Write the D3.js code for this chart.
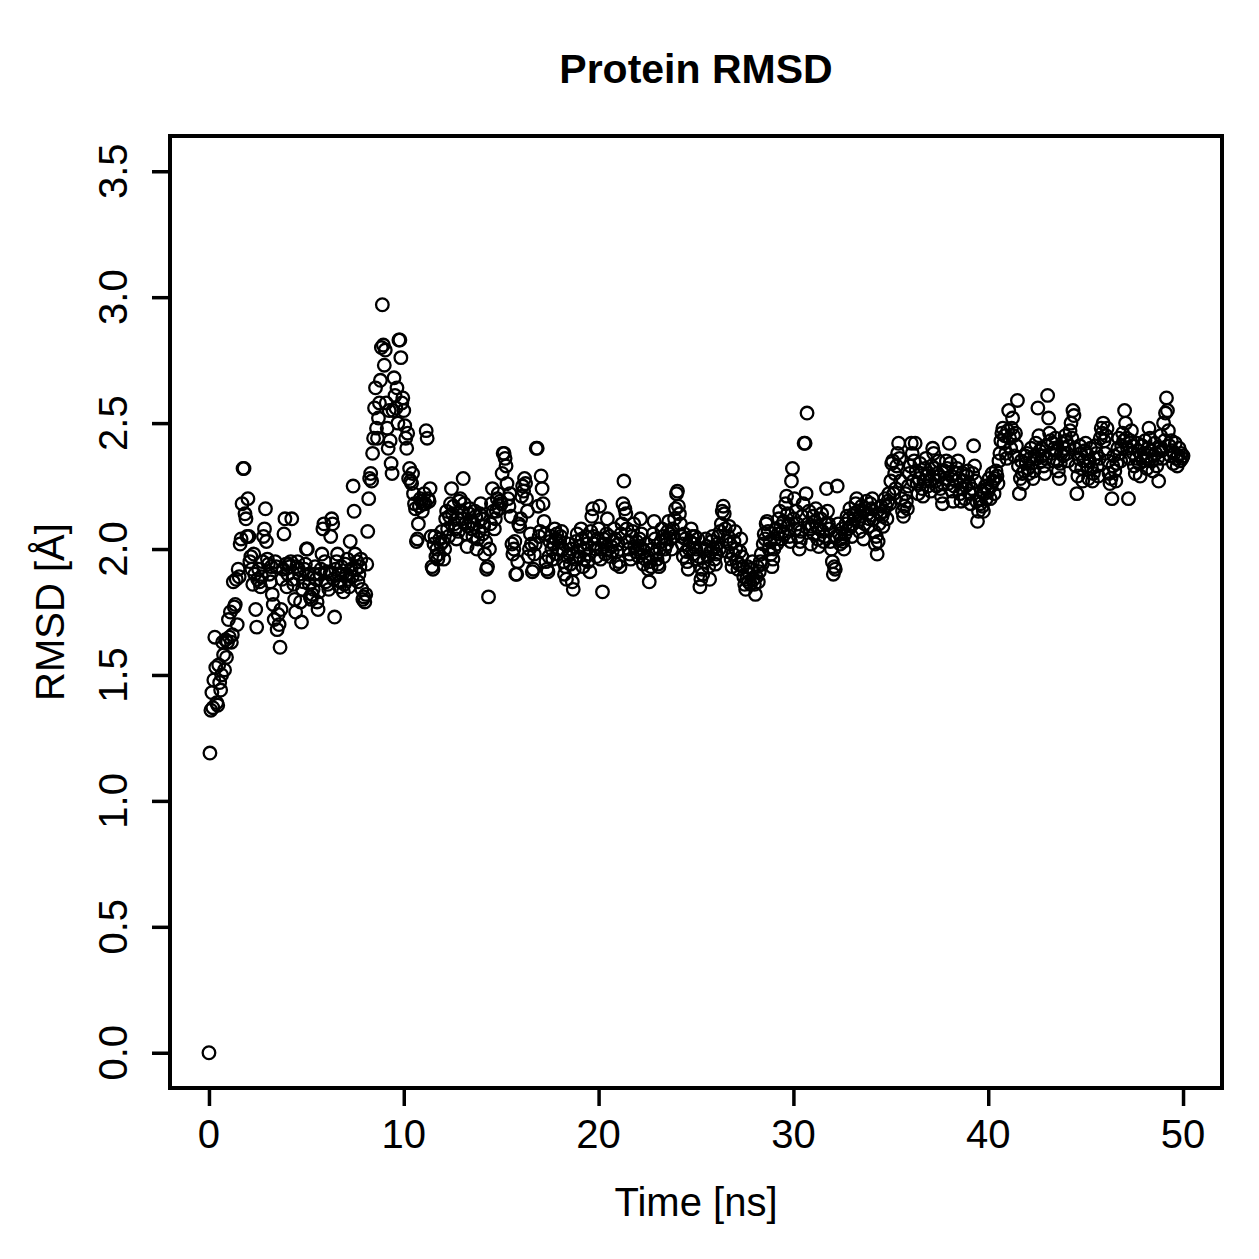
<!DOCTYPE html>
<html>
<head>
<meta charset="utf-8">
<script src="https://cdn.jsdelivr.net/npm/d3@7"></script>
<style>
  body { margin: 0; background: #ffffff; }
  text { font-family: "Liberation Sans", Arial, Helvetica, sans-serif; fill: #000000; }
</style>
</head>
<body>
<div id="chart"></div>
<script>
// Data ////////////////////////////////////////////////////////////////////
////////////////////////////////////////////////////////////////////////////
// One frame every 0.05 ns, RMSD in Angstrom, split in 5 ns blocks
const frameStep = 0.05;

const rmsd00to05 = [
  0.00, 1.19, 1.36, 1.43, 1.37, 1.48, 1.65, 1.53, 1.39, 1.38, 1.54, 1.47, 1.44, 1.50, 1.63, 1.58, 1.52, 1.64, 1.57, 1.63,
  1.72, 1.65, 1.75, 1.63, 1.66, 1.87, 1.77, 1.78, 1.88, 1.70, 1.92, 1.89, 2.02, 2.04, 2.18, 2.32, 2.32, 2.14, 2.12, 2.05,
  2.20, 2.05, 1.95, 1.97, 1.92, 1.86, 1.98, 1.90, 1.76, 1.69, 1.88, 1.92, 1.87, 1.85, 1.89, 1.95, 2.05, 2.08, 2.16, 2.03,
  1.96, 1.94, 1.90, 1.87, 1.93, 1.82, 1.78, 1.72, 1.95, 1.93, 1.68, 1.74, 1.70, 1.61, 1.76, 1.88, 1.92, 2.06, 2.12, 1.94,
  1.85, 1.90, 1.94, 1.93, 1.95, 2.12, 1.88, 1.86, 1.80, 1.75, 1.93, 1.95, 1.92, 1.90, 1.79, 1.71, 1.84, 1.87, 1.92, 1.94
];

const rmsd05to10 = [
  2.00, 2.00, 1.90, 1.86, 1.81, 1.80, 1.82, 1.84, 1.90, 1.93, 1.88, 1.79, 1.76, 1.83, 1.90, 1.92, 1.98, 2.08, 2.10, 1.95,
  1.87, 1.91, 1.86, 1.84, 1.90, 2.05, 2.12, 2.10, 1.88, 1.73, 1.92, 1.95, 1.98, 1.90, 1.85, 1.87, 1.93, 1.90, 1.83, 1.86,
  1.94, 1.90, 1.96, 1.88, 1.85, 2.03, 1.92, 1.89, 2.25, 2.15, 1.98, 1.92, 1.95, 1.87, 1.90, 1.93, 1.96, 1.84, 1.80, 1.81,
  1.79, 1.82, 1.94, 2.07, 2.20, 2.28, 2.30, 2.27, 2.38, 2.44, 2.56, 2.64, 2.48, 2.44, 2.52, 2.58, 2.67, 2.80, 2.97, 2.81,
  2.73, 2.79, 2.58, 2.48, 2.40, 2.55, 2.43, 2.34, 2.30, 2.55, 2.68, 2.61, 2.56, 2.64, 2.50, 2.83, 2.83, 2.76, 2.58, 2.60
];

const rmsd10to15 = [
  2.55, 2.49, 2.44, 2.40, 2.46, 2.28, 2.32, 2.27, 2.26, 2.30, 2.22, 2.18, 2.16, 2.03, 2.04, 2.10, 2.17, 2.20, 2.19, 2.15,
  2.18, 2.22, 2.18, 2.47, 2.44, 2.20, 2.19, 2.24, 2.05, 1.93, 1.92, 2.02, 2.05, 1.97, 2.00, 1.96, 1.98, 2.04, 2.02, 2.07,
  2.03, 1.96, 2.00, 2.12, 2.15, 2.08, 2.05, 2.13, 2.18, 2.24, 2.14, 2.17, 2.10, 2.08, 2.04, 2.12, 2.07, 2.19, 2.20, 2.15,
  2.12, 2.28, 2.18, 2.10, 2.06, 2.01, 2.09, 2.14, 2.16, 2.11, 2.08, 2.05, 2.10, 2.15, 2.13, 2.00, 2.04, 2.07, 2.14, 2.18,
  2.12, 2.06, 2.09, 1.98, 2.03, 1.92, 1.93, 1.81, 2.00, 2.10, 2.18, 2.24, 2.15, 2.08, 2.12, 2.15, 2.20, 2.22, 2.16, 2.19
];

const rmsd15to20 = [
  2.18, 2.30, 2.38, 2.38, 2.36, 2.33, 2.26, 2.20, 2.17, 2.22, 2.13, 2.02, 1.98, 2.00, 2.03, 1.90, 1.90, 1.95, 2.10, 2.09,
  2.12, 2.21, 2.25, 2.23, 2.28, 2.26, 2.20, 2.15, 1.97, 2.00, 2.06, 2.02, 1.91, 1.92, 1.98, 2.02, 2.40, 2.40, 2.17, 2.05,
  2.07, 2.29, 2.24, 2.18, 2.11, 2.06, 1.95, 1.92, 1.91, 1.97, 2.03, 2.05, 2.00, 1.96, 2.02, 2.08, 2.04, 2.06, 1.98, 2.00,
  2.03, 2.05, 2.07, 2.00, 1.95, 1.90, 1.93, 1.88, 1.97, 2.02, 1.98, 1.94, 2.00, 1.87, 1.84, 1.92, 1.96, 2.03, 2.06, 1.99,
  1.97, 2.01, 2.08, 2.04, 1.93, 1.96, 2.00, 2.05, 2.02, 1.95, 1.98, 1.91, 2.07, 2.13, 2.16, 2.05, 2.02, 2.00, 1.97, 2.04
];

const rmsd20to25 = [
  2.08, 2.17, 1.96, 2.00, 1.83, 2.04, 2.02, 1.98, 2.06, 2.12, 2.00, 2.05, 1.97, 2.01, 1.99, 2.03, 2.08, 2.04, 1.94, 1.99,
  2.02, 1.95, 1.93, 2.06, 2.10, 2.18, 2.27, 2.16, 2.14, 2.08, 2.03, 2.00, 1.98, 1.96, 2.05, 2.07, 2.10, 2.01, 1.99, 2.03,
  2.00, 1.97, 2.04, 2.12, 2.06, 2.00, 1.94, 1.99, 1.96, 2.02, 1.97, 1.92, 1.87, 1.95, 1.93, 2.00, 2.06, 2.11, 2.04, 1.98,
  1.96, 1.94, 1.93, 2.00, 2.03, 2.08, 2.05, 1.97, 2.00, 2.04, 2.02, 2.07, 2.11, 2.06, 2.04, 2.00, 2.08, 2.05, 2.12, 2.16,
  2.22, 2.23, 2.17, 2.14, 2.10, 2.05, 2.02, 1.97, 2.06, 2.04, 1.99, 1.95, 1.92, 2.00, 2.03, 2.08, 2.05, 1.98, 2.02, 2.05
];

const rmsd25to30 = [
  2.00, 1.96, 2.04, 1.97, 1.85, 1.88, 1.92, 1.90, 1.95, 2.00, 2.04, 2.01, 1.97, 1.93, 1.88, 1.99, 2.03, 2.05, 2.00, 1.96,
  1.94, 1.98, 2.02, 2.05, 2.00, 2.07, 2.10, 2.15, 2.17, 2.14, 2.08, 2.03, 1.99, 2.05, 2.09, 2.02, 1.96, 1.93, 1.98, 2.03,
  2.07, 2.00, 1.95, 1.92, 1.94, 1.99, 2.04, 1.97, 1.93, 1.89, 1.86, 1.84, 1.88, 1.93, 1.87, 1.90, 1.86, 1.92, 1.95, 1.88,
  1.86, 1.82, 1.89, 1.93, 1.87, 1.91, 1.95, 1.98, 1.94, 2.02, 2.06, 2.04, 2.10, 2.11, 2.07, 2.00, 2.03, 1.98, 1.93, 1.96,
  2.00, 2.04, 2.08, 2.02, 2.06, 2.12, 2.15, 2.09, 2.04, 2.07, 2.11, 2.06, 2.18, 2.21, 2.14, 2.10, 2.05, 2.03, 2.27, 2.32
];

const rmsd30to35 = [
  2.12, 2.20, 2.08, 2.15, 2.10, 2.05, 2.00, 2.03, 2.07, 2.13, 2.18, 2.42, 2.42, 2.22, 2.54, 2.10, 2.15, 2.08, 2.02, 2.09,
  2.13, 2.06, 2.11, 2.16, 2.09, 2.04, 2.01, 2.08, 2.12, 2.14, 2.07, 2.03, 2.05, 2.10, 2.24, 2.15, 2.10, 2.08, 2.03, 2.00,
  1.95, 1.90, 1.93, 1.92, 2.05, 2.25, 2.10, 2.06, 2.02, 2.04, 2.08, 2.03, 2.00, 2.06, 2.10, 2.13, 2.08, 2.12, 2.16, 2.09,
  2.05, 2.10, 2.14, 2.12, 2.18, 2.20, 2.15, 2.11, 2.07, 2.13, 2.17, 2.15, 2.04, 2.10, 2.16, 2.19, 2.14, 2.09, 2.12, 2.18,
  2.16, 2.20, 2.12, 2.07, 2.02, 2.05, 1.98, 2.03, 2.10, 2.14, 2.17, 2.13, 2.09, 2.15, 2.20, 2.17, 2.12, 2.19, 2.22, 2.18
];

const rmsd35to40 = [
  2.27, 2.34, 2.35, 2.22, 2.30, 2.24, 2.33, 2.38, 2.42, 2.36, 2.27, 2.20, 2.15, 2.13, 2.17, 2.22, 2.19, 2.16, 2.25, 2.30,
  2.33, 2.42, 2.38, 2.27, 2.35, 2.42, 2.31, 2.26, 2.22, 2.28, 2.34, 2.30, 2.24, 2.21, 2.27, 2.32, 2.36, 2.29, 2.25, 2.30,
  2.27, 2.23, 2.33, 2.40, 2.38, 2.32, 2.27, 2.25, 2.30, 2.35, 2.29, 2.24, 2.21, 2.18, 2.26, 2.31, 2.28, 2.35, 2.32, 2.26,
  2.42, 2.34, 2.29, 2.23, 2.19, 2.25, 2.30, 2.27, 2.32, 2.35, 2.28, 2.22, 2.19, 2.24, 2.30, 2.27, 2.20, 2.25, 2.29, 2.31,
  2.26, 2.22, 2.18, 2.24, 2.30, 2.41, 2.33, 2.27, 2.19, 2.11, 2.15, 2.20, 2.18, 2.23, 2.17, 2.15, 2.22, 2.25, 2.20, 2.24
];

const rmsd40to45 = [
  2.23, 2.28, 2.20, 2.25, 2.30, 2.27, 2.22, 2.28, 2.31, 2.29, 2.26, 2.35, 2.38, 2.43, 2.46, 2.48, 2.42, 2.45, 2.38, 2.36,
  2.47, 2.55, 2.44, 2.40, 2.48, 2.52, 2.45, 2.37, 2.46, 2.41, 2.59, 2.33, 2.22, 2.28, 2.35, 2.30, 2.26, 2.31, 2.37, 2.34,
  2.38, 2.32, 2.30, 2.36, 2.40, 2.34, 2.28, 2.31, 2.37, 2.42, 2.36, 2.56, 2.45, 2.39, 2.35, 2.40, 2.37, 2.33, 2.30, 2.36,
  2.41, 2.61, 2.52, 2.46, 2.43, 2.38, 2.42, 2.35, 2.40, 2.44, 2.39, 2.35, 2.31, 2.28, 2.34, 2.38, 2.42, 2.37, 2.40, 2.45,
  2.43, 2.38, 2.35, 2.41, 2.47, 2.50, 2.44, 2.55, 2.53, 2.40, 2.33, 2.22, 2.29, 2.36, 2.41, 2.38, 2.32, 2.27, 2.35, 2.39
];

const rmsd45to50 = [
  2.42, 2.38, 2.33, 2.28, 2.35, 2.40, 2.32, 2.27, 2.30, 2.36, 2.41, 2.38, 2.33, 2.29, 2.36, 2.44, 2.48, 2.46, 2.50, 2.43,
  2.38, 2.45, 2.48, 2.35, 2.30, 2.26, 2.28, 2.20, 2.33, 2.37, 2.31, 2.27, 2.34, 2.40, 2.44, 2.38, 2.35, 2.41, 2.46, 2.43,
  2.55, 2.50, 2.44, 2.40, 2.20, 2.36, 2.43, 2.47, 2.41, 2.38, 2.33, 2.30, 2.36, 2.42, 2.39, 2.34, 2.29, 2.37, 2.41, 2.35,
  2.38, 2.43, 2.36, 2.32, 2.40, 2.48, 2.44, 2.39, 2.35, 2.31, 2.37, 2.42, 2.38, 2.33, 2.36, 2.27, 2.40, 2.45, 2.39, 2.36,
  2.50, 2.43, 2.54, 2.60, 2.55, 2.47, 2.41, 2.37, 2.43, 2.39, 2.34, 2.38, 2.42, 2.36, 2.33, 2.37, 2.40, 2.35, 2.38, 2.36,
  2.37
];

// Tick labels
const xTicks = [0, 10, 20, 30, 40, 50];
const yTicks = [0.0, 0.5, 1.0, 1.5, 2.0, 2.5, 3.0, 3.5];

// Join the blocks and pair each value with its time
const rmsdValues = [].concat(rmsd00to05, rmsd05to10, rmsd10to15, rmsd15to20, rmsd20to25,
                             rmsd25to30, rmsd30to35, rmsd35to40, rmsd40to45, rmsd45to50);
const points = rmsdValues.map((v, i) => ({time: i * frameStep, rmsd: v}));

// Chart ///////////////////////////////////////////////////////////////////
////////////////////////////////////////////////////////////////////////////
const width = 1259, height = 1259;
const box = {left: 170, right: 1222, top: 136, bottom: 1088};

const svg = d3.select('#chart').append('svg')
  .attr('width', width)
  .attr('height', height)
  .style('background', '#ffffff');

// R style axis ranges: data range padded by 4% on each side
const x = d3.scaleLinear()
  .domain([-2, 52])
  .range([box.left, box.right]);

const y = d3.scaleLinear()
  .domain([-0.14, 3.64])
  .range([box.bottom, box.top]);

// Points
svg.append('g')
  .attr('class', 'points')
  .selectAll('circle')
  .data(points)
  .enter().append('circle')
  .attr('cx', d => x(d.time))
  .attr('cy', d => y(d.rmsd))
  .attr('r', 6.3)
  .attr('fill', 'none')
  .attr('stroke', '#000')
  .attr('stroke-width', 2.3);

// Axes: no domain line, outward ticks, labels set separately
const xAxis = svg.append('g')
  .attr('class', 'axis axis-x')
  .attr('transform', `translate(0,${box.bottom})`)
  .call(d3.axisBottom(x).tickValues(xTicks).tickSize(18).tickFormat(''));

const yAxis = svg.append('g')
  .attr('class', 'axis axis-y')
  .attr('transform', `translate(${box.left},0)`)
  .call(d3.axisLeft(y).tickValues(yTicks).tickSize(18).tickFormat(''));

svg.selectAll('.axis .domain').remove();
svg.selectAll('.axis line').attr('stroke', '#000').attr('stroke-width', 3.5);

// Tick labels
svg.append('g')
  .selectAll('text')
  .data(xTicks)
  .enter().append('text')
  .attr('x', d => x(d))
  .attr('y', 1148)
  .attr('text-anchor', 'middle')
  .style('font-size', '40px')
  .text(d => d);

svg.append('g')
  .selectAll('text')
  .data(yTicks)
  .enter().append('text')
  .attr('transform', d => `translate(127,${y(d)}) rotate(-90)`)
  .attr('text-anchor', 'middle')
  .style('font-size', '40px')
  .text(d => d.toFixed(1));

// Plot frame
svg.append('rect')
  .attr('x', box.left)
  .attr('y', box.top)
  .attr('width', box.right - box.left)
  .attr('height', box.bottom - box.top)
  .attr('fill', 'none')
  .attr('stroke', '#000')
  .attr('stroke-width', 4);

// Title and axis labels
svg.append('text')
  .attr('x', (box.left + box.right) / 2)
  .attr('y', 83)
  .attr('text-anchor', 'middle')
  .style('font-size', '41px')
  .style('font-weight', 'bold')
  .text('Protein RMSD');

svg.append('text')
  .attr('x', (box.left + box.right) / 2)
  .attr('y', 1216)
  .attr('text-anchor', 'middle')
  .style('font-size', '40px')
  .text('Time [ns]');

svg.append('text')
  .attr('transform', `translate(64,${(box.top + box.bottom) / 2}) rotate(-90)`)
  .attr('text-anchor', 'middle')
  .style('font-size', '40px')
  .text('RMSD [Å]');
</script>
</body>
</html>
